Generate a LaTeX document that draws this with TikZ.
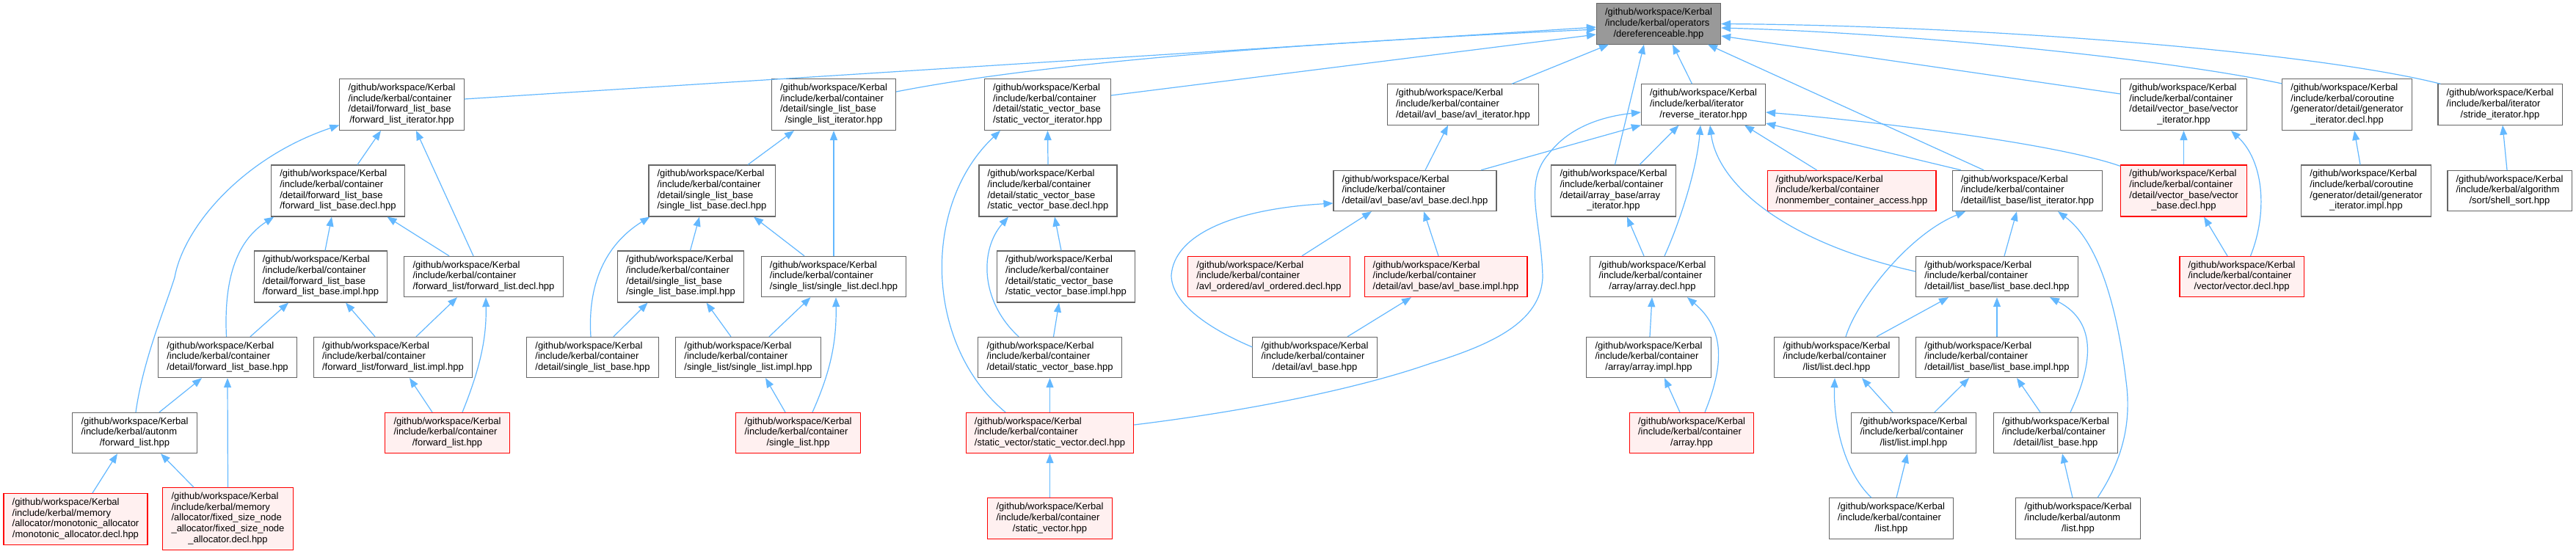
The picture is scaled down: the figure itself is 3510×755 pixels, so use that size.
\documentclass[tikz,border=0pt]{standalone}
\usepackage{fontspec}
\setmainfont{Liberation Sans}
\usetikzlibrary{arrows.meta}
\definecolor{edgeblue}{HTML}{63B8FF}
\definecolor{boxgray}{HTML}{666666}
\definecolor{topfill}{HTML}{999999}
\definecolor{redfill}{HTML}{FFF0F0}
\newcommand\fl[1]{\begin{tabular}{@{}l@{}}#1\end{tabular}}
\newcommand\lc[1]{\multicolumn{1}{@{}c@{}}{#1}}
\newcommand\gw{/github/workspace/Kerbal}
\newcommand\ikc{/include/kerbal/container}
\begin{document}
\begin{tikzpicture}[x=1pt,y=-1pt,
  box/.style={draw=boxgray,line width=1.1pt,fill=white,inner xsep=11.6pt,inner ysep=5.6pt,font=\fontsize{13}{14.7}\selectfont,text=black},
  redbox/.style={box,draw=red,fill=redfill},
  topbox/.style={box,fill=topfill},
  dep/.style={draw=edgeblue,line width=1.2pt,-{Triangle[length=13pt,width=10pt]}}]
\path[use as bounding box,fill=white] (0,0) rectangle (3510,755);
% row 0
\node[topbox] (deref) at (2260,32.5) {\fl{\gw\\/include/kerbal/operators\\\lc{/dereferenceable.hpp}}};
% row 1
\node[box] (fli) at (547.5,142.5) {\fl{\gw\\\ikc\\/detail/forward\_list\_base\\\lc{/forward\_list\_iterator.hpp}}};
\node[box] (sli) at (1136,142.5) {\fl{\gw\\\ikc\\/detail/single\_list\_base\\\lc{/single\_list\_iterator.hpp}}};
\node[box] (svi) at (1427.5,142.5) {\fl{\gw\\\ikc\\/detail/static\_vector\_base\\\lc{/static\_vector\_iterator.hpp}}};
\node[box] (avli) at (1993.5,142.5) {\fl{\gw\\\ikc\\\lc{/detail/avl\_base/avl\_iterator.hpp}}};
\node[box] (revi) at (2321,142.5) {\fl{\gw\\/include/kerbal/iterator\\\lc{/reverse\_iterator.hpp}}};
\node[box] (veci) at (2975.5,142.5) {\fl{\gw\\\ikc\\/detail/vector\_base/vector\\\lc{\_iterator.hpp}}};
\node[box] (geni) at (3198,142.5) {\fl{\gw\\/include/kerbal/coroutine\\/generator/detail/generator\\\lc{\_iterator.decl.hpp}}};
\node[box] (stri) at (3406.5,142.5) {\fl{\gw\\/include/kerbal/iterator\\\lc{/stride\_iterator.hpp}}};
% row 2
\node[box] (flbd) at (460.5,260) {\fl{\gw\\\ikc\\/detail/forward\_list\_base\\\lc{/forward\_list\_base.decl.hpp}}};
\node[box] (slbd) at (970,260) {\fl{\gw\\\ikc\\/detail/single\_list\_base\\\lc{/single\_list\_base.decl.hpp}}};
\node[box] (svbd) at (1428,260) {\fl{\gw\\\ikc\\/detail/static\_vector\_base\\\lc{/static\_vector\_base.decl.hpp}}};
\node[box] (avlbd) at (1928,260) {\fl{\gw\\\ikc\\\lc{/detail/avl\_base/avl\_base.decl.hpp}}};
\node[box] (arri) at (2198.5,260) {\fl{\gw\\\ikc\\/detail/array\_base/array\\\lc{\_iterator.hpp}}};
\node[redbox] (nca) at (2523,260) {\fl{\gw\\\ikc\\\lc{/nonmember\_container\_access.hpp}}};
\node[box] (lsti) at (2762.5,260) {\fl{\gw\\\ikc\\\lc{/detail/list\_base/list\_iterator.hpp}}};
\node[redbox] (vbd) at (2975.5,260) {\fl{\gw\\\ikc\\/detail/vector\_base/vector\\\lc{\_base.decl.hpp}}};
\node[box] (genimpl) at (3224,260) {\fl{\gw\\/include/kerbal/coroutine\\/generator/detail/generator\\\lc{\_iterator.impl.hpp}}};
\node[box] (shell) at (3419.5,260) {\fl{\gw\\/include/kerbal/algorithm\\\lc{/sort/shell\_sort.hpp}}};
% row 3
\node[box] (flbi) at (437,377) {\fl{\gw\\\ikc\\/detail/forward\_list\_base\\\lc{/forward\_list\_base.impl.hpp}}};
\node[box] (fld) at (659,377) {\fl{\gw\\\ikc\\\lc{/forward\_list/forward\_list.decl.hpp}}};
\node[box] (slbi) at (927.5,377) {\fl{\gw\\\ikc\\/detail/single\_list\_base\\\lc{/single\_list\_base.impl.hpp}}};
\node[box] (sld) at (1136,377) {\fl{\gw\\\ikc\\\lc{/single\_list/single\_list.decl.hpp}}};
\node[box] (svbi) at (1452.5,377) {\fl{\gw\\\ikc\\/detail/static\_vector\_base\\\lc{/static\_vector\_base.impl.hpp}}};
\node[redbox] (avlo) at (1729,377) {\fl{\gw\\\ikc\\\lc{/avl\_ordered/avl\_ordered.decl.hpp}}};
\node[redbox] (avlbi) at (1970,377) {\fl{\gw\\\ikc\\\lc{/detail/avl\_base/avl\_base.impl.hpp}}};
\node[box] (arrd) at (2251.5,377) {\fl{\gw\\\ikc\\\lc{/array/array.decl.hpp}}};
\node[box] (lbd) at (2721,377) {\fl{\gw\\\ikc\\\lc{/detail/list\_base/list\_base.decl.hpp}}};
\node[redbox] (vecd) at (3054.5,377) {\fl{\gw\\\ikc\\\lc{/vector/vector.decl.hpp}}};
% row 4
\node[box] (flb) at (310,487) {\fl{\gw\\\ikc\\\lc{/detail/forward\_list\_base.hpp}}};
\node[box] (flimpl) at (535.5,487) {\fl{\gw\\\ikc\\\lc{/forward\_list/forward\_list.impl.hpp}}};
\node[box] (slb) at (807.5,487) {\fl{\gw\\\ikc\\\lc{/detail/single\_list\_base.hpp}}};
\node[box] (slimpl) at (1019.5,487) {\fl{\gw\\\ikc\\\lc{/single\_list/single\_list.impl.hpp}}};
\node[box] (svb) at (1430.5,487) {\fl{\gw\\\ikc\\\lc{/detail/static\_vector\_base.hpp}}};
\node[box] (avlb) at (1791.5,487) {\fl{\gw\\\ikc\\\lc{/detail/avl\_base.hpp}}};
\node[box] (arrimpl) at (2246.5,487) {\fl{\gw\\\ikc\\\lc{/array/array.impl.hpp}}};
\node[box] (lstd) at (2502.5,487) {\fl{\gw\\\ikc\\\lc{/list/list.decl.hpp}}};
\node[box] (lbi) at (2721,487) {\fl{\gw\\\ikc\\\lc{/detail/list\_base/list\_base.impl.hpp}}};
% row 5
\node[box] (afl) at (183.5,590) {\fl{\gw\\/include/kerbal/autonm\\\lc{/forward\_list.hpp}}};
\node[redbox] (cfl) at (609.5,590) {\fl{\gw\\\ikc\\\lc{/forward\_list.hpp}}};
\node[redbox] (sl) at (1087.5,590) {\fl{\gw\\\ikc\\\lc{/single\_list.hpp}}};
\node[redbox] (svd) at (1430.5,590) {\fl{\gw\\\ikc\\\lc{/static\_vector/static\_vector.decl.hpp}}};
\node[redbox] (arr) at (2305,590) {\fl{\gw\\\ikc\\\lc{/array.hpp}}};
\node[box] (lstimpl) at (2607.5,590) {\fl{\gw\\\ikc\\\lc{/list/list.impl.hpp}}};
\node[box] (lb) at (2801,590) {\fl{\gw\\\ikc\\\lc{/detail/list\_base.hpp}}};
% row 6
\node[redbox] (mono) at (103,707.5) {\fl{\gw\\/include/kerbal/memory\\/allocator/monotonic\_allocator\\\lc{/monotonic\_allocator.decl.hpp}}};
\node[redbox] (fsn) at (310.5,707) {\fl{\gw\\/include/kerbal/memory\\/allocator/fixed\_size\_node\\\_allocator/fixed\_size\_node\\\lc{\_allocator.decl.hpp}}};
\node[redbox] (svh) at (1430.5,706.5) {\fl{\gw\\\ikc\\\lc{/static\_vector.hpp}}};
\node[box] (clist) at (2577,706.5) {\fl{\gw\\\ikc\\\lc{/list.hpp}}};
\node[box] (alist) at (2831.5,706.5) {\fl{\gw\\/include/kerbal/autonm\\\lc{/list.hpp}}};
% edges to deref
\draw[dep] ([yshift=7.5pt]fli.east) -- ([yshift=-4.5pt]deref.west);
\draw[dep] ([yshift=17.5pt]sli.east) .. controls (1450,80) and (1850,55) .. ([yshift=-7.5pt]deref.west);
\draw[dep] ([yshift=12.5pt]svi.east) -- ([yshift=-14.5pt]deref.west);
\draw[dep] ([xshift=66.5pt]avli.north) -- ([xshift=-68pt]deref.south);
\draw[dep] ([xshift=2pt]arri.north) -- ([xshift=-20pt]deref.south);
\draw[dep] ([xshift=-15.5pt]revi.north) -- ([xshift=19pt]deref.south);
\draw[dep] ([xshift=-59.5pt]lsti.north) -- ([xshift=67pt]deref.south);
\draw[dep] ([yshift=14.5pt]veci.west) -- ([yshift=-16.5pt]deref.east);
\draw[dep] ([yshift=-7pt]geni.north west) .. controls (2950,80) and (2600,45) .. ([yshift=-5.5pt]deref.east);
\draw[dep] ([xshift=4pt]stri.north west) .. controls (3150,70) and (2700,35) .. (deref.east);
% edges to reverse_iterator
\draw[dep] ([yshift=11pt]svd.east) .. controls (1700,560) and (1850,530) .. (1950,495) .. controls (2030,470) and (2100,440) .. (2102,377) .. controls (2100,300) and (2075,250) .. (2110,210) .. controls (2140,170) and (2190,158) .. ([yshift=-10.5pt]revi.west);
\draw[dep] ([xshift=90pt]avlbd.north) -- (revi.south west);
\draw[dep] ([xshift=35.5pt]arri.north) -- ([xshift=-33.5pt]revi.south);
\draw[dep] ([xshift=16.5pt]arrd.north) .. controls (2290,300) and (2312,230) .. ([xshift=-4pt]revi.south);
\draw[dep] ([yshift=7pt]lbd.west) .. controls (2430,330) and (2340,250) .. ([xshift=9pt]revi.south);
\draw[dep] ([xshift=-47.5pt]nca.north) -- ([xshift=56pt]revi.south);
\draw[dep] ([yshift=-2pt]vbd.north west) .. controls (2800,195) and (2550,165) .. ([yshift=-10.5pt]revi.east);
\draw[dep] ([xshift=-90.5pt]lsti.north) -- ([yshift=-25.5pt]revi.east);
% avl
\draw[dep] ([xshift=14pt]avlbd.north) -- ([xshift=-20.5pt]avli.south);
\draw[dep] ([xshift=45pt]avlo.north) -- ([xshift=-59pt]avlbd.south);
\draw[dep] ([xshift=-10pt]avlbi.north) -- ([xshift=12pt]avlbd.south);
\draw[dep] ([yshift=14pt]avlb.west) .. controls (1640,445) and (1596,410) .. (1596,375) .. controls (1600,320) and (1680,285) .. ([yshift=-17pt]avlbd.west);
\draw[dep] ([xshift=44.5pt]avlb.north) -- ([xshift=-47pt]avlbi.south);
% static vector
\draw[dep] (svbd.north) -- (svi.south);
\draw[dep] ([xshift=-6.5pt]svbi.north) -- ([xshift=9pt]svbd.south);
\draw[dep] ([xshift=-42.5pt]svb.north) .. controls (1335,410) and (1335,340) .. ([xshift=-54pt]svbd.south);
\draw[dep] ([xshift=5pt]svb.north) -- ([xshift=-9.5pt]svbi.south);
\draw[dep] (svd.north) -- (svb.south);
\draw[dep] ([xshift=-60.5pt]svd.north) .. controls (1260,470) and (1255,280) .. ([xshift=-64.5pt]svi.south);
\draw[dep] (svh.north) -- (svd.south);
% single list
\draw[dep] ([xshift=49pt]slbd.north) -- ([xshift=-54pt]sli.south);
\draw[dep] (sld.north) -- (sli.south);
\draw[dep] ([xshift=13pt]slbi.north) -- ([xshift=-17pt]slbd.south);
\draw[dep] ([xshift=-40pt]sld.north) -- ([xshift=57pt]slbd.south);
\draw[dep] ([xshift=-2.5pt]slb.north) .. controls (800,380) and (830,330) .. ([xshift=2pt]slbd.south west);
\draw[dep] ([xshift=28.5pt]slb.north) -- ([xshift=-45pt]slbi.south);
\draw[dep] ([xshift=-23.5pt]slimpl.north) -- ([xshift=35pt]slbi.south);
\draw[dep] ([xshift=28.5pt]slimpl.north) -- ([xshift=-31.5pt]sld.south);
\draw[dep] ([xshift=-17.5pt]sl.north) -- ([xshift=23.5pt]slimpl.south);
\draw[dep] ([xshift=19.5pt]sl.north) .. controls (1130,510) and (1140,470) .. ([xshift=3pt]sld.south);
% forward list
\draw[dep] ([xshift=26.5pt]flbd.north) -- ([xshift=-28.5pt]fli.south);
\draw[dep] ([xshift=-14pt]fld.north) -- ([xshift=19.5pt]fli.south);
\draw[dep] ([xshift=1.5pt]afl.north) .. controls (195,490) and (225,420) .. (238,378) .. controls (250,310) and (330,215) .. ([yshift=-28pt]fli.west);
\draw[dep] ([xshift=6pt]flbi.north) -- ([xshift=-8.5pt]flbd.south);
\draw[dep] ([xshift=-47pt]fld.north) -- ([xshift=67pt]flbd.south);
\draw[dep] ([xshift=-1.5pt]flb.north) .. controls (305,385) and (320,330) .. ([xshift=4pt]flbd.south west);
\draw[dep] ([xshift=31pt]flb.north) -- ([xshift=-44pt]flbi.south);
\draw[dep] ([xshift=-24.5pt]flimpl.north) -- ([xshift=34pt]flbi.south);
\draw[dep] ([xshift=31.5pt]flimpl.north) -- ([xshift=-36pt]fld.south);
\draw[dep] ([xshift=-20.5pt]cfl.north) -- ([xshift=22.5pt]flimpl.south);
\draw[dep] ([xshift=20.5pt]cfl.north) .. controls (655,500) and (663,460) .. ([xshift=3pt]fld.south);
\draw[dep] ([xshift=33.5pt]afl.north) -- ([xshift=-35pt]flb.south);
\draw[dep] ([xshift=23pt]mono.north) -- ([xshift=-23.5pt]afl.south);
\draw[dep] ([xshift=-46.5pt]fsn.north) -- ([xshift=35.5pt]afl.south);
\draw[dep] (fsn.north) -- (flb.south);
% array
\draw[dep] ([xshift=-11.5pt]arrd.north) -- ([xshift=18.5pt]arri.south);
\draw[dep] ([xshift=1.5pt]arrimpl.north) -- ([xshift=-0.5pt]arrd.south);
\draw[dep] ([xshift=-16pt]arr.north) -- ([xshift=21.5pt]arrimpl.south);
\draw[dep] ([xshift=18pt]arr.north) .. controls (2348,500) and (2352,450) .. ([xshift=47.5pt]arrd.south);
% list
\draw[dep] ([xshift=10pt]lbd.north) -- ([xshift=-14.5pt]lsti.south);
\draw[dep] ([xshift=12.5pt]lstd.north) .. controls (2530,410) and (2600,320) .. ([xshift=-84.5pt]lsti.south);
\draw[dep] ([xshift=54.5pt]lstd.north) -- ([xshift=-66pt]lbd.south);
\draw[dep] (lbi.north) -- (lbd.south);
\draw[dep] ([xshift=20pt]lb.north) .. controls (2850,500) and (2860,440) .. ([xshift=72pt]lbd.south);
\draw[dep] ([xshift=-21pt]lb.north) -- ([xshift=27pt]lbi.south);
\draw[dep] ([xshift=28.5pt]lstimpl.north) -- ([xshift=-38pt]lbi.south);
\draw[dep] ([xshift=-28.5pt]lstimpl.north) -- ([xshift=34.5pt]lstd.south);
\draw[dep] ([xshift=-27pt]clist.north) .. controls (2510,640) and (2498,570) .. ([xshift=-2.5pt]lstd.south);
\draw[dep] ([xshift=7pt]clist.north) -- ([xshift=-8.5pt]lstimpl.south);
\draw[dep] ([xshift=-7.5pt]alist.north) -- ([xshift=9pt]lb.south);
\draw[dep] ([xshift=26.5pt]alist.north) .. controls (2890,630) and (2905,580) .. (2897,520) .. controls (2885,420) and (2860,330) .. ([xshift=41.5pt]lsti.south);
% vector
\draw[dep] (vbd.north) -- (veci.south);
\draw[dep] ([xshift=-19.5pt]vecd.north) -- ([xshift=27.5pt]vbd.south);
\draw[dep] ([xshift=12pt]vecd.north) .. controls (3090,290) and (3085,220) .. ([xshift=64.5pt]veci.south);
% generator, sort
\draw[dep] ([xshift=-8pt]genimpl.north) -- ([xshift=10pt]geni.south);
\draw[dep] ([xshift=-3.5pt]shell.north) -- ([xshift=3.5pt]stri.south);
\end{tikzpicture}
\end{document}
